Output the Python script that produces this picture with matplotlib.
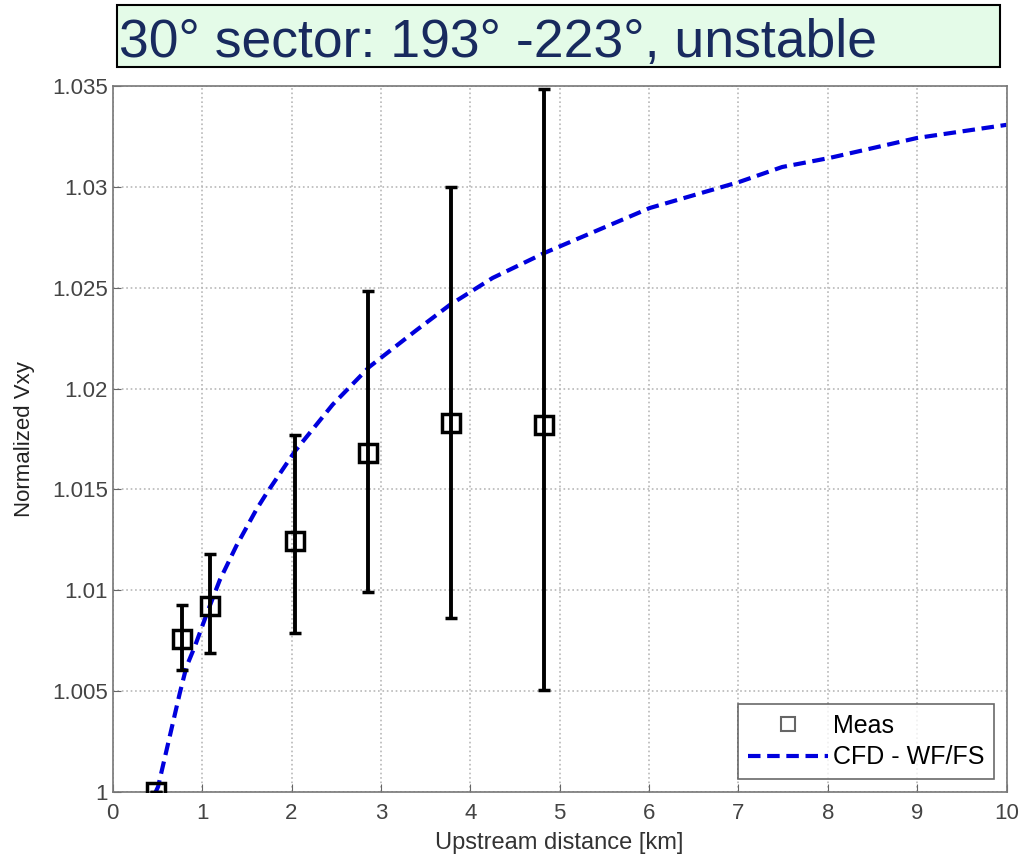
import numpy as np
import matplotlib.pyplot as plt
from matplotlib.patches import Rectangle

# measured normalized speed-up vs upstream distance
dist_meas = [0.48, 0.78, 1.085, 2.04, 2.86, 3.78, 4.83]
vxy_meas = [1.0000, 1.00759, 1.00922, 1.01244, 1.01681, 1.01829, 1.01819]
err_hi = [1.0000, 1.00927, 1.01180, 1.01770, 1.02484, 1.03000, 1.03485]
err_lo = [1.0000, 1.00605, 1.00689, 1.00788, 1.00992, 1.00863, 1.00506]

# CFD wall function / free stream profile
dist_cfd = [0.48, 0.507, 0.75, 0.824, 0.917, 1.066, 1.197, 1.383, 1.607, 1.72,
            2.04, 2.46, 2.87, 3.40, 3.77, 4.25, 4.83, 6.01, 7.01, 7.49, 8.02,
            9.0, 10.0]
vxy_cfd = [1.0000, 1.00026, 1.0049, 1.0062, 1.0072, 1.0090, 1.0105, 1.0122,
           1.0140, 1.0148, 1.0169, 1.0192, 1.02107, 1.0229, 1.02414, 1.02548,
           1.02672, 1.02895, 1.03024, 1.03098, 1.03143, 1.03242, 1.03307]

xticks = np.arange(0, 11, 1)
yticks = [1, 1.005, 1.01, 1.015, 1.02, 1.025, 1.03, 1.035]
ylabels = ['1', '1.005', '1.01', '1.015', '1.02', '1.025', '1.03', '1.035']

plt.rcParams['font.family'] = ['Liberation Sans', 'DejaVu Sans']

fig = plt.figure(figsize=(10.25, 8.59), dpi=100)
ax = fig.add_axes([0.110, 0.078, 0.872, 0.822])

yerr = [np.array(vxy_meas) - np.array(err_lo), np.array(err_hi) - np.array(vxy_meas)]
ax.errorbar(dist_meas, vxy_meas, yerr=yerr, fmt='none', ecolor='black',
            elinewidth=2.8, capsize=4, capthick=2.5, zorder=3)
ax.plot(dist_meas, vxy_meas, 's', markersize=13, markerfacecolor='none',
        markeredgecolor='black', markeredgewidth=2.5, label='Meas', zorder=4)
ax.plot(dist_cfd, vxy_cfd, '--', color='#0000dd', lw=3, dashes=(3, 1.6),
        label='CFD - WF/FS', zorder=2)

ax.set_xlim(0, 10)
ax.set_ylim(1, 1.035)
ax.set_xticks(xticks)
ax.set_yticks(yticks)
ax.set_yticklabels(ylabels)
ax.tick_params(labelsize=16, labelcolor='#444444', color='#666666', direction='in', length=6)
ax.tick_params(axis='x', pad=8)
ax.grid(True, linestyle=':', color='#b8b8b8', lw=1.2)
for s in ax.spines.values():
    s.set_color('#777777')
    s.set_linewidth(1.2)

ax.set_xlabel('Upstream distance [km]', fontsize=17, color='#333333', labelpad=6)
ax.set_ylabel('Normalized Vxy', fontsize=16, color='#222222', labelpad=12)

leg = ax.legend(loc='lower right', fontsize=18, frameon=True, fancybox=False,
                borderaxespad=0.5, handlelength=3.2, handletextpad=0.2,
                markerscale=0.8, borderpad=0.4, labelspacing=0.3)
leg.get_frame().set_edgecolor('#444444')
leg.get_frame().set_linewidth(1.2)
leg.legend_handles[0].set_markeredgecolor('#666666')
leg.legend_handles[0].set_markeredgewidth(1.5)

# title banner
fig.patches.append(Rectangle((117 / 1025, 1 - 67 / 859), 883 / 1025, 62 / 859,
                             transform=fig.transFigure, facecolor='#e4fbe8',
                             edgecolor='black', lw=1.5, zorder=5))
fig.text(119 / 1025, 1 - 57 / 859, '30\u00b0 sector: 193\u00b0 -223\u00b0, unstable',
         fontsize=38.5, color='#182a5e', va='baseline', ha='left', zorder=6)

fig.savefig('out.png', dpi=100)
